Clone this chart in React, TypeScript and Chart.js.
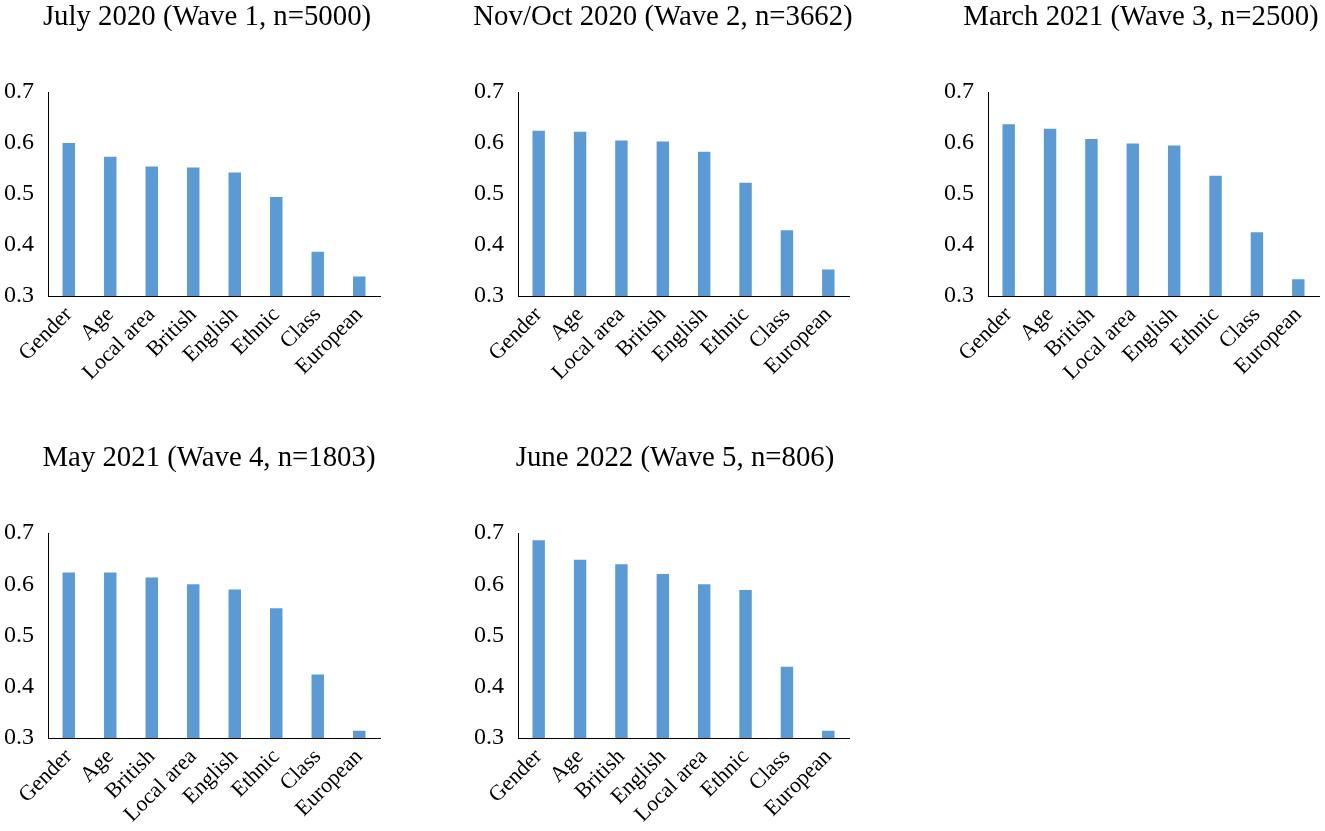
import React, { useEffect, useRef } from "react";
import { Chart, registerables } from "chart.js";

Chart.register(...registerables);

// y axis range shared by every panel
const yTicks = [0.3, 0.4, 0.5, 0.6, 0.7];

const wave1Title = "July 2020 (Wave 1, n=5000)";
const wave1Labels = ["Gender", "Age", "Local area", "British", "English", "Ethnic", "Class", "European"];
const wave1Values = [0.6, 0.573, 0.554, 0.552, 0.542, 0.494, 0.387, 0.338];

const wave2Title = "Nov/Oct 2020 (Wave 2, n=3662)";
const wave2Labels = ["Gender", "Age", "Local area", "British", "English", "Ethnic", "Class", "European"];
const wave2Values = [0.624, 0.622, 0.605, 0.603, 0.583, 0.522, 0.429, 0.352];

const wave3Title = "March 2021 (Wave 3, n=2500)";
const wave3Labels = ["Gender", "Age", "British", "Local area", "English", "Ethnic", "Class", "European"];
const wave3Values = [0.637, 0.628, 0.608, 0.599, 0.595, 0.536, 0.425, 0.333];

const wave4Title = "May 2021 (Wave 4, n=1803)";
const wave4Labels = ["Gender", "Age", "British", "Local area", "English", "Ethnic", "Class", "European"];
const wave4Values = [0.623, 0.623, 0.613, 0.6, 0.59, 0.553, 0.424, 0.314];

const wave5Title = "June 2022 (Wave 5, n=806)";
const wave5Labels = ["Gender", "Age", "British", "English", "Local area", "Ethnic", "Class", "European"];
const wave5Values = [0.686, 0.648, 0.639, 0.62, 0.6, 0.589, 0.439, 0.314];

const FONT = "'Liberation Serif', 'Times New Roman', serif";
const TITLE_SIZE = 28.8;
const TICK_SIZE = 24;
const CATEGORY_SIZE = 22;
const Y_AXIS_WIDTH = 48;
const X_AXIS_HEIGHT = 100;

interface Box {
    y: number; // canvas top
    axisLeft: number;
    axisRight: number;
    titleX: number;
    plotTop: number;
    plotBottom: number;
}

interface PanelProps {
    title: string;
    labels: string[];
    values: number[];
    box: Box;
}

function BarPanel({ title, labels, values, box }: PanelProps) {
    const canvasRef = useRef<HTMLCanvasElement | null>(null);

    const left = box.axisLeft - Y_AXIS_WIDTH;
    // empty right-hand axis so the full-width title centres where the reference has it
    const spacer = Math.max(2 * box.titleX - left - box.axisRight, 0);
    const width = box.axisRight - left + spacer;
    const height = box.plotBottom - box.y + X_AXIS_HEIGHT;
    const titleBottom = box.plotTop - box.y - TITLE_SIZE * 1.2;

    useEffect(() => {
        if (!canvasRef.current) return;

        const chart = new Chart(canvasRef.current, {
            type: "bar",
            data: {
                labels,
                datasets: [
                    {
                        data: values,
                        backgroundColor: "#5B9BD5",
                        borderWidth: 0,
                        categoryPercentage: 1,
                        barPercentage: 0.3,
                    },
                ],
            },
            options: {
                animation: false,
                responsive: true,
                maintainAspectRatio: false,
                layout: { padding: 0 },
                plugins: {
                    legend: { display: false },
                    tooltip: { enabled: false },
                    title: {
                        display: true,
                        text: title,
                        color: "#000",
                        font: { family: FONT, size: TITLE_SIZE, weight: "normal" },
                        padding: { top: 0, bottom: titleBottom },
                    },
                },
                scales: {
                    x: {
                        grid: { display: false, drawTicks: false },
                        border: { display: true, color: "#000", width: 1 },
                        ticks: {
                            autoSkip: false,
                            minRotation: 45,
                            maxRotation: 45,
                            padding: 6,
                            color: "#000",
                            font: { family: FONT, size: CATEGORY_SIZE },
                        },
                        afterFit: (scale: any) => {
                            scale.height = X_AXIS_HEIGHT;
                            scale.paddingLeft = 0;
                            scale.paddingRight = 0;
                        },
                    },
                    y: {
                        min: yTicks[0],
                        max: yTicks[yTicks.length - 1],
                        grid: { display: false, drawTicks: false },
                        border: { display: true, color: "#000", width: 1 },
                        ticks: {
                            stepSize: 0.1,
                            padding: 14,
                            color: "#000",
                            font: { family: FONT, size: TICK_SIZE },
                            callback: (value) => Number(value).toFixed(1),
                        },
                        afterFit: (scale: any) => {
                            scale.width = Y_AXIS_WIDTH;
                        },
                    },
                    spacer: {
                        type: "linear",
                        position: "right",
                        grid: { display: false, drawTicks: false },
                        border: { display: false },
                        ticks: { display: false },
                        afterFit: (scale: any) => {
                            scale.width = spacer;
                        },
                    },
                },
            },
        });

        return () => chart.destroy();
    }, [title, labels, values, spacer, titleBottom]);

    return (
        <div
            style={{
                position: "absolute",
                left,
                top: box.y,
                width,
                height,
            }}
        >
            <canvas ref={canvasRef} />
        </div>
    );
}

export default function App() {
    return (
        <div
            style={{
                position: "absolute",
                left: 0,
                top: 0,
                width: 1325,
                height: 831,
                background: "#fff",
                overflow: "hidden",
            }}
        >
            <BarPanel
                title={wave1Title}
                labels={wave1Labels}
                values={wave1Values}
                box={{ y: 0, axisLeft: 48, axisRight: 380, titleX: 207, plotTop: 92, plotBottom: 296 }}
            />
            <BarPanel
                title={wave2Title}
                labels={wave2Labels}
                values={wave2Values}
                box={{ y: 0, axisLeft: 518, axisRight: 849, titleX: 663, plotTop: 92, plotBottom: 296 }}
            />
            <BarPanel
                title={wave3Title}
                labels={wave3Labels}
                values={wave3Values}
                box={{ y: 0, axisLeft: 988, axisRight: 1319, titleX: 1141, plotTop: 92, plotBottom: 296 }}
            />
            <BarPanel
                title={wave4Title}
                labels={wave4Labels}
                values={wave4Values}
                box={{ y: 441, axisLeft: 48, axisRight: 380, titleX: 209, plotTop: 533, plotBottom: 738 }}
            />
            <BarPanel
                title={wave5Title}
                labels={wave5Labels}
                values={wave5Values}
                box={{ y: 441, axisLeft: 518, axisRight: 849, titleX: 675, plotTop: 533, plotBottom: 738 }}
            />
        </div>
    );
}
